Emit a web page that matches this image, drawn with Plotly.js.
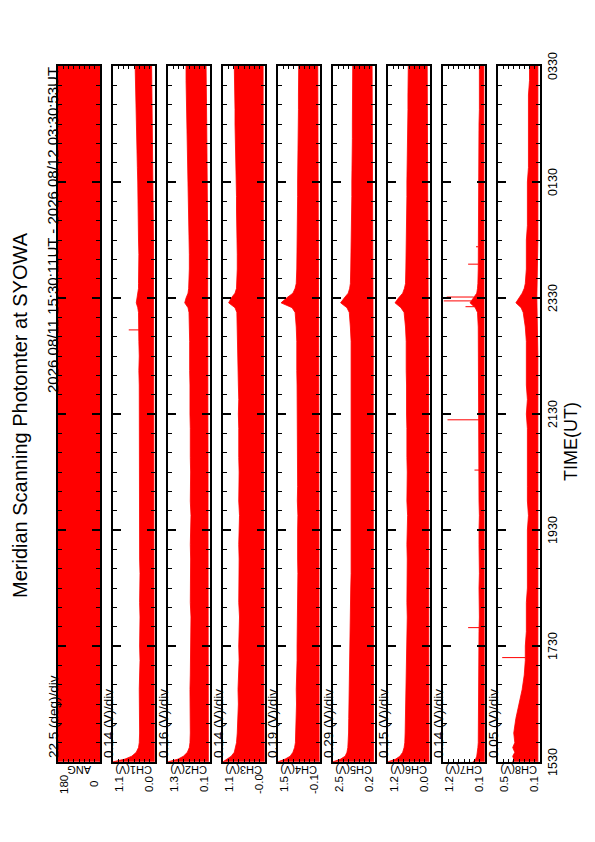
<!DOCTYPE html>
<html><head><meta charset="utf-8">
<script src="https://cdn.plot.ly/plotly-3.0.1.min.js"></script>
<style>
html,body{margin:0;padding:0;width:595px;height:842px;overflow:hidden;background:#fff}
#wrap{position:absolute;left:0;top:0;width:842px;height:595px;transform-origin:0 0;transform:translate(0px,842px) rotate(-90deg);}
</style></head><body><div id="wrap"></div>
<script>
// ---- data (time in minutes after 2026-08-11 15:30 UT) ----
const T = [0.2,3,6,10,15,20, 30,45,60,75,90,105,120,135,150,165,180,195,210,225,240,255,270,285,300,315,330,345,360,375,390,405,420,435,450,465, 470,475,480,485,490, 495,510,525,540,555,570,585,600,615,630,645,660,675,690,705,720.9];
const loT = [0.2,60,120,180,240,300,360,420,480,540,600,660,720.9];

const angT = [0.2, 720.9];
const angMin = [0, 0];
const angMax = [180, 180];

const ch1Hi = [1.12,0.80,0.62,0.50,0.44,0.42, 0.41,0.42,0.41,0.42,0.41,0.40,0.41,0.40,0.40,0.41,0.40,0.40,0.41,0.41,0.41,0.40,0.41,0.41,0.41,0.42,0.41,0.42,0.42,0.41,0.42,0.43,0.42,0.43,0.43,0.44, 0.46,0.50,0.48,0.45,0.44, 0.44,0.43,0.43,0.44,0.44,0.45,0.45,0.46,0.47,0.48,0.49,0.50,0.51,0.52,0.53,0.53];
const ch1Lo = [0.02,0.03,0.03,0.03,0.03,0.03,0.03,0.03,0.04,0.04,0.05,0.07,0.09];
const ch2Hi = [1.33,1.02,0.86,0.74,0.68,0.66, 0.65,0.66,0.65,0.66,0.65,0.64,0.65,0.64,0.63,0.65,0.64,0.63,0.64,0.65,0.64,0.63,0.65,0.64,0.64,0.65,0.64,0.65,0.66,0.65,0.66,0.67,0.66,0.67,0.68,0.69, 0.72,0.82,0.78,0.72,0.70, 0.69,0.68,0.68,0.69,0.69,0.70,0.70,0.71,0.72,0.73,0.74,0.75,0.76,0.77,0.78,0.78];
const ch2Lo = [0.10,0.11,0.11,0.11,0.11,0.11,0.11,0.11,0.12,0.12,0.13,0.15,0.17];
const ch3Hi = [1.10,0.98,0.88,0.80,0.76,0.74, 0.72,0.70,0.69,0.70,0.68,0.67,0.68,0.67,0.66,0.68,0.67,0.66,0.67,0.68,0.67,0.66,0.68,0.67,0.67,0.68,0.67,0.68,0.69,0.68,0.69,0.70,0.69,0.70,0.71,0.73, 0.78,0.95,0.88,0.78,0.74, 0.73,0.72,0.72,0.73,0.73,0.74,0.74,0.75,0.76,0.76,0.77,0.78,0.78,0.79,0.80,0.80];
const ch3Lo = [0.00,0.01,0.01,0.01,0.01,0.01,0.01,0.01,0.01,0.01,0.02,0.03,0.03];
const ch4Hi = [1.46,1.20,1.02,0.92,0.86,0.83, 0.82,0.80,0.79,0.80,0.78,0.77,0.77,0.76,0.75,0.76,0.75,0.74,0.75,0.76,0.75,0.74,0.76,0.75,0.75,0.76,0.75,0.76,0.77,0.76,0.77,0.78,0.77,0.78,0.80,0.84, 0.95,1.35,1.15,0.92,0.84, 0.80,0.78,0.77,0.77,0.76,0.76,0.75,0.75,0.74,0.74,0.73,0.73,0.72,0.72,0.71,0.71];
const ch4Lo = [-0.03,-0.02,-0.02,-0.02,-0.02,-0.02,-0.02,-0.02,-0.01,-0.01,0.00,0.01,0.02];
const ch5Hi = [2.52,2.10,1.85,1.75,1.70,1.68, 1.66,1.65,1.64,1.65,1.62,1.60,1.60,1.58,1.56,1.56,1.54,1.52,1.52,1.52,1.50,1.48,1.50,1.48,1.48,1.50,1.48,1.50,1.50,1.48,1.50,1.52,1.50,1.52,1.56,1.62, 1.75,2.10,1.90,1.68,1.60, 1.56,1.54,1.52,1.52,1.50,1.50,1.48,1.48,1.46,1.46,1.45,1.45,1.44,1.44,1.43,1.43];
const ch5Lo = [0.28,0.30,0.30,0.30,0.30,0.30,0.30,0.30,0.31,0.31,0.32,0.34,0.36];
const ch6Hi = [1.22,1.00,0.88,0.80,0.76,0.74, 0.73,0.72,0.71,0.71,0.70,0.69,0.69,0.68,0.67,0.68,0.67,0.66,0.67,0.68,0.67,0.66,0.68,0.67,0.67,0.68,0.67,0.68,0.69,0.68,0.69,0.70,0.69,0.70,0.72,0.76, 0.85,1.02,0.92,0.80,0.75, 0.72,0.71,0.70,0.70,0.69,0.69,0.68,0.68,0.67,0.67,0.66,0.66,0.65,0.65,0.64,0.64];
const ch6Lo = [0.05,0.06,0.06,0.06,0.06,0.06,0.06,0.06,0.07,0.07,0.08,0.09,0.10];
const ch7Hi = [0.40,0.33,0.30,0.28,0.27,0.26, 0.26,0.25,0.25,0.25,0.24,0.24,0.24,0.24,0.23,0.24,0.24,0.23,0.24,0.24,0.24,0.23,0.24,0.24,0.24,0.24,0.24,0.24,0.25,0.24,0.25,0.25,0.25,0.25,0.26,0.28, 0.34,0.48,0.40,0.30,0.28, 0.27,0.26,0.26,0.26,0.25,0.25,0.25,0.25,0.24,0.24,0.24,0.24,0.23,0.23,0.23,0.23];
const ch7Lo = [0.10,0.11,0.11,0.11,0.11,0.11,0.11,0.11,0.12,0.11,0.11,0.11,0.11];
const ch8Hi = [0.36,0.35,0.36,0.34,0.36,0.34, 0.35,0.33,0.30,0.27,0.25,0.24,0.24,0.23,0.23,0.23,0.22,0.22,0.22,0.22,0.22,0.21,0.22,0.22,0.22,0.22,0.22,0.22,0.23,0.22,0.23,0.23,0.23,0.23,0.24,0.26, 0.28,0.33,0.30,0.27,0.25, 0.24,0.23,0.23,0.23,0.22,0.22,0.22,0.22,0.21,0.21,0.21,0.21,0.21,0.21,0.20,0.20];
const ch8Lo = [0.12,0.12,0.12,0.12,0.12,0.12,0.12,0.12,0.13,0.12,0.12,0.12,0.12];

const ch1SpikeT = [447];
const ch1SpikeV = [0.70];
const ch7SpikeT = [139, 302, 354, 471, 477, 481, 515, 533];
const ch7SpikeV = [0.53, 0.36, 1.08, 0.60, 1.18, 1.10, 0.53, 0.32];
const ch8SpikeT = [108];
const ch8SpikeV = [0.46];

const names = ['ANG','CH1(V)','CH2(V)','CH3(V)','CH4(V)','CH5(V)','CH6(V)','CH7(V)','CH8(V)'];
const topLabels = ['180','1.1','1.3','1.1','1.5','2.5','1.2','1.2','0.5'];
const botLabels = ['0','0.0','0.1','-0.0','-0.1','0.2','0.0','0.1','0.1'];
const divLabels = ['22.5 (deg)/div','0.14 (V)/div','0.16 (V)/div','0.14 (V)/div','0.19 (V)/div','0.29 (V)/div','0.15 (V)/div','0.14 (V)/div','0.05 (V)/div'];
const yMin = [0, 0.00, 0.05, -0.02, -0.06, 0.20, 0.02, 0.08, 0.10];
const yDiv = [22.5, 0.14, 0.16, 0.14, 0.19, 0.29, 0.15, 0.14, 0.05];

// ---- build ----
const pad = n => String(n).padStart(2,'0');
function ts(m){const d=new Date(Date.UTC(2026,7,11,15,30,0)+Math.round(m*60000));
  return d.getUTCFullYear()+'-'+pad(d.getUTCMonth()+1)+'-'+pad(d.getUTCDate())+' '+pad(d.getUTCHours())+':'+pad(d.getUTCMinutes())+':'+pad(d.getUTCSeconds());}
function interp(xs, ys, x){for(let k=1;k<xs.length;k++){if(x<=xs[k]){const f=(x-xs[k-1])/(xs[k]-xs[k-1]);return ys[k-1]+f*(ys[k]-ys[k-1]);}}return ys[ys.length-1];}

const bands = [
  [angT, angMax, angT, angMin],
  [T, ch1Hi, loT, ch1Lo],[T, ch2Hi, loT, ch2Lo],[T, ch3Hi, loT, ch3Lo],[T, ch4Hi, loT, ch4Lo],
  [T, ch5Hi, loT, ch5Lo],[T, ch6Hi, loT, ch6Lo],[T, ch7Hi, loT, ch7Lo],[T, ch8Hi, loT, ch8Lo]
];
const spikes = {1:[ch1SpikeT, ch1SpikeV], 7:[ch7SpikeT, ch7SpikeV], 8:[ch8SpikeT, ch8SpikeV]};

const RED = '#ff0000';
const W = 842, H = 595, PL = 80, PR = 776, TOP0 = 58, PITCH = 55, PH = 42;
const traces = [];
const layout = {width:W, height:H, margin:{l:0,r:0,t:0,b:0}, showlegend:false,
  paper_bgcolor:'#fff', plot_bgcolor:'#fff',
  font:{family:'Liberation Sans, Arial, sans-serif', color:'#000'}, annotations:[]};

const t0 = ts(0), t1 = ts(720);
for(let i=0;i<9;i++){
  const sx = i===0?'':String(i+1);
  const [ht, hv, lt, lv] = bands[i];
  const xs = ht.map(ts).concat(lt.slice().reverse().map(ts));
  const ys = hv.concat(lv.slice().reverse());
  traces.push({type:'scatter', mode:'lines', x:xs, y:ys, fill:'toself', fillcolor:RED,
    line:{color:RED, width:0.8}, xaxis:'x'+sx, yaxis:'y'+sx, hoverinfo:'skip'});
  if(spikes[i]){
    const [st, sv] = spikes[i]; const sxs=[], sys=[];
    st.forEach((t,k)=>{sxs.push(ts(t),ts(t),null); sys.push(interp(ht,hv,t), sv[k], null);});
    traces.push({type:'scatter', mode:'lines', x:sxs, y:sys, line:{color:RED,width:1},
      xaxis:'x'+sx, yaxis:'y'+sx, hoverinfo:'skip'});
  }
  const top = TOP0 + PITCH*i;
  const r0 = yMin[i], r1 = yMin[i] + 8*yDiv[i];
  layout['xaxis'+sx] = {domain:[PL/W, PR/W], type:'date', range:[t0,t1], anchor:'y'+sx,
    showline:true, mirror:'ticks', linewidth:2, linecolor:'#000', showgrid:false, zeroline:false,
    ticks:'inside', ticklen:8, tickwidth:2, tickcolor:'#000', tick0:t0, dtick:7200000,
    tickformat:'%H%M', showticklabels:i===8, tickfont:{size:12.5, color:'#000'},
    minor:{ticks:'inside', ticklen:4, tickwidth:1, tickcolor:'#000', dtick:1200000, tick0:t0, showgrid:false},
    fixedrange:true};
  layout['yaxis'+sx] = {domain:[1-(top+PH)/H, 1-top/H], range:[r0, r1], anchor:'x'+sx,
    showline:true, mirror:'ticks', linewidth:2, linecolor:'#000', showgrid:false, zeroline:false,
    ticks:'inside', ticklen:3, tickwidth:1, tickcolor:'#000', tick0:r0, dtick:yDiv[i],
    showticklabels:false, fixedrange:true};
  layout.annotations.push(
    {text:topLabels[i], xref:'paper', yref:'paper', x:58/W, y:1-(top+6)/H, xanchor:'center', yanchor:'middle', showarrow:false, font:{size:11.5}},
    {text:botLabels[i], xref:'paper', yref:'paper', x:58/W, y:1-(top+36)/H, xanchor:'center', yanchor:'middle', showarrow:false, font:{size:11.5}},
    {text:names[i], xref:'paper', yref:'paper', x:72/W, y:1-(top+21)/H, xanchor:'center', yanchor:'middle', textangle:-90, showarrow:false, font:{size:11}},
    {text:divLabels[i], xref:'paper', yref:'paper', x:82/W, y:1-(top-5)/H, xanchor:'left', yanchor:'middle', showarrow:false, font:{size:13.5}}
  );
}
layout.annotations.push(
  {text:'Meridian Scanning Photomter at SYOWA', xref:'paper', yref:'paper', x:427/W, y:1-20/H, xanchor:'center', yanchor:'middle', showarrow:false, font:{size:20}},
  {text:'2026 08/11 15:30:11UT - 2026 08/12 03:30:53UT', xref:'paper', yref:'paper', x:777/W, y:1-52/H, xanchor:'right', yanchor:'middle', showarrow:false, font:{size:15}},
  {text:'TIME(UT)', xref:'paper', yref:'paper', x:400/W, y:1-571/H, xanchor:'center', yanchor:'middle', showarrow:false, font:{size:18}}
);
Plotly.newPlot('wrap', traces, layout, {staticPlot:true, displayModeBar:false});
</script></body></html>
